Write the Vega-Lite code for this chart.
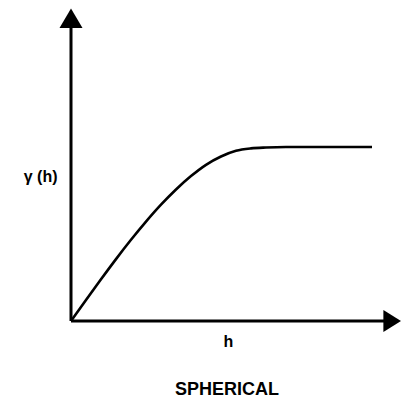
{
  "$schema": "https://vega.github.io/schema/vega-lite/v6.json",
  "width": 330,
  "height": 311,
  "autosize": {"type": "none"},
  "padding": {"left": 71, "top": 10, "right": 0, "bottom": 81},
  "background": "white",
  "config": {"view": {"stroke": null}, "font": "Liberation Sans"},
  "title": {"text": "SPHERICAL", "orient": "bottom", "anchor": "middle", "dx": -9, "offset": 32, "fontSize": 18, "fontWeight": "bold", "font": "Liberation Sans", "color": "black"},
  "datasets": {
    "curve": [
      {"h": 0, "g": 0}, {"h": 15, "g": 21.0}, {"h": 30, "g": 41.7}, {"h": 45, "g": 61.9},
      {"h": 60, "g": 81.2}, {"h": 75, "g": 99.4}, {"h": 90, "g": 116.3}, {"h": 105, "g": 131.5},
      {"h": 120, "g": 144.9}, {"h": 135, "g": 156.2}, {"h": 150, "g": 164.5}, {"h": 165, "g": 170.2},
      {"h": 180, "g": 172.6}, {"h": 195, "g": 173.5}, {"h": 215, "g": 174}, {"h": 260, "g": 174}, {"h": 301, "g": 174}
    ],
    "axes": [
      {"x": 0, "y": 0, "x2": 0, "y2": 295},
      {"x": 0, "y": 0, "x2": 316, "y2": 0}
    ],
    "uparrow": [{"x": 0, "y": 301}],
    "rightarrow": [{"x": 319, "y": 0}]
  },
  "layer": [
    {
      "data": {"name": "axes"},
      "mark": {"type": "rule", "strokeWidth": 3, "color": "black", "clip": false},
      "encoding": {
        "x": {"field": "x", "type": "quantitative", "scale": {"domain": [0, 330], "nice": false, "zero": false}, "axis": {"title": "h", "domain": false, "ticks": false, "labels": false, "grid": false, "titleFontSize": 16, "titleFontWeight": "bold", "titleFont": "Liberation Sans", "titleColor": "black", "titleX": 157, "titleY": 12, "titleBaseline": "top", "titleAlign": "center"}},
        "y": {"field": "y", "type": "quantitative", "scale": {"domain": [0, 311], "nice": false, "zero": false}, "axis": {"title": "γ (h)", "domain": false, "ticks": false, "labels": false, "grid": false, "titleAngle": 0, "titleFontSize": 16, "titleFontWeight": "bold", "titleFont": "Liberation Sans", "titleColor": "black", "titleX": -14, "titleY": 166, "titleAlign": "right", "titleBaseline": "middle"}},
        "x2": {"field": "x2"},
        "y2": {"field": "y2"}
      }
    },
    {
      "data": {"name": "curve"},
      "mark": {"type": "line", "strokeWidth": 2.6, "color": "black", "interpolate": "monotone", "clip": false},
      "encoding": {
        "x": {"field": "h", "type": "quantitative"},
        "y": {"field": "g", "type": "quantitative"}
      }
    },
    {
      "data": {"name": "uparrow"},
      "mark": {"type": "point", "shape": "M0,-1L1,0.7L-1,0.7Z", "size": 529, "filled": true, "color": "black", "opacity": 1, "clip": false},
      "encoding": {
        "x": {"field": "x", "type": "quantitative"},
        "y": {"field": "y", "type": "quantitative"}
      }
    },
    {
      "data": {"name": "rightarrow"},
      "mark": {"type": "point", "shape": "M1,0L-0.6,-1L-0.6,1Z", "size": 484, "filled": true, "color": "black", "opacity": 1, "clip": false},
      "encoding": {
        "x": {"field": "x", "type": "quantitative"},
        "y": {"field": "y", "type": "quantitative"}
      }
    }
  ]
}
